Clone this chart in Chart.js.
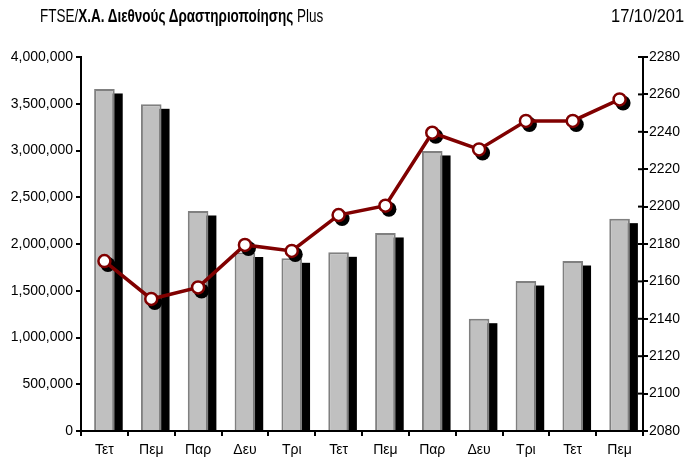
<!DOCTYPE html>
<html>
<head>
<meta charset="utf-8">
<script src="https://cdn.jsdelivr.net/npm/chart.js@4"></script>
<style>
  html, body { margin:0; padding:0; background:#fff; width:688px; height:463px; overflow:hidden; }
  #wrap { position:relative; width:688px; height:463px; }
  canvas { position:absolute; left:0; top:0; }
  .title { position:absolute; top:6px; font-family:"Liberation Sans Narrow","Arial Narrow","Liberation Sans",sans-serif; font-size:19px; color:#000; white-space:nowrap; line-height:1; transform-origin:0 0; }
  #t1 { left:40px; transform:scaleX(0.71); }
  #t2 { left:611px; transform:scaleX(0.865); }
</style>
</head>
<body>
<div id="wrap">
  <canvas id="c" width="688" height="463"></canvas>
  <div class="title" id="t1">FTSE/<b>Χ.Α. Διεθνούς Δραστηριοποίησης</b> Plus</div>
  <div class="title" id="t2">17/10/201</div>
</div>
<script>
const categories = ["Τετ","Πεμ","Παρ","Δευ","Τρι","Τετ","Πεμ","Παρ","Δευ","Τρι","Τετ","Πεμ"];
const volumeValues = [3658000, 3494000, 2353000, 1909000, 1847000, 1911000, 2118000, 2995000, 1201000, 1604000, 1818000, 2271000];
const indexValues = [2170.9, 2150.6, 2156.8, 2179.5, 2176.3, 2195.5, 2200.5, 2239.5, 2230.6, 2245.8, 2245.8, 2257.3];
const leftTicks = { min: 0, max: 4000000, step: 500000 };
const rightTicks = { min: 2080, max: 2280, step: 20 };

const shadowPlugin = {
  id: 'shadows',
  beforeDatasetDraw(chart, args) {
    const ctx = chart.ctx;
    const area = chart.chartArea;
    const meta = args.meta;
    ctx.save();
    ctx.beginPath();
    ctx.rect(area.left, area.top - 20, area.right - area.left + 20, area.bottom - area.top + 20);
    ctx.clip();
    ctx.fillStyle = '#000';
    if (meta.type === 'bar') {
      meta.data.forEach(el => {
        const p = el.getProps(['x','y','base','width'], true);
        const x0 = p.x - p.width / 2 + 8;
        const y0 = p.y + 4.5;
        ctx.fillRect(x0, y0, p.width, area.bottom - y0);
      });
    } else if (meta.type === 'line') {
      meta.data.forEach(el => {
        const p = el.getProps(['x','y'], true);
        ctx.beginPath();
        ctx.arc(p.x + 3.5, p.y + 3.5, 7.5, 0, Math.PI * 2);
        ctx.fill();
      });
    }
    ctx.restore();
  },
  afterDraw(chart) {
    const s = chart.scales.y2;
    const ctx = chart.ctx;
    ctx.save();
    ctx.strokeStyle = '#000';
    ctx.lineWidth = 2;
    s.ticks.forEach((t, i) => {
      const y = s.getPixelForTick(i);
      ctx.beginPath();
      ctx.moveTo(s.left - 5, y);
      ctx.lineTo(s.left, y);
      ctx.stroke();
    });
    ctx.restore();
  }
};

const fontTicks = { family: '"Liberation Sans", Arial, sans-serif', size: 14 };

new Chart(document.getElementById('c'), {
  data: {
    labels: categories,
    datasets: [
      {
        type: 'line',
        data: indexValues,
        yAxisID: 'y2',
        borderColor: '#800000',
        borderWidth: 3.5,
        pointRadius: 6,
        pointBorderWidth: 2.5,
        pointBackgroundColor: '#ffffff',
        pointBorderColor: '#800000',
        tension: 0,
        order: 0
      },
      {
        type: 'bar',
        data: volumeValues,
        yAxisID: 'y',
        backgroundColor: '#c0c0c0',
        borderColor: '#808080',
        borderWidth: 2,
        barPercentage: 0.44,
        categoryPercentage: 1,
        order: 1
      }
    ]
  },
  options: {
    responsive: false,
    animation: false,
    events: [],
    layout: { padding: { top: 57, left: 0, right: 0, bottom: 0 } },
    plugins: { legend: { display: false }, tooltip: { enabled: false }, title: { display: false } },
    scales: {
      x: {
        offset: true,
        grid: { display: true, drawOnChartArea: false, drawTicks: true, tickLength: 5, color: '#000', lineWidth: 2, offset: true },
        border: { display: true, color: '#000', width: 2 },
        ticks: { color: '#000', font: fontTicks, padding: 6, maxRotation: 0 },
        afterFit(s) { s.height = 32; }
      },
      y: {
        position: 'left',
        min: leftTicks.min, max: leftTicks.max,
        grid: { display: true, drawOnChartArea: false, drawTicks: true, tickLength: 5, color: '#000', lineWidth: 2 },
        border: { display: true, color: '#000', width: 2 },
        ticks: { stepSize: leftTicks.step, color: '#000', font: fontTicks, padding: 3,
                 callback: v => Number(v).toLocaleString('en-US') },
        afterFit(s) { s.width = 81; }
      },
      y2: {
        position: 'right',
        min: rightTicks.min, max: rightTicks.max,
        grid: { display: true, drawOnChartArea: false, drawTicks: true, tickLength: 5, color: '#000', lineWidth: 2 },
        border: { display: true, color: '#000', width: 2 },
        ticks: { stepSize: rightTicks.step, color: '#000', font: fontTicks, padding: 1,
                 callback: v => String(v) },
        afterFit(s) { s.width = 45; }
      }
    }
  },
  plugins: [shadowPlugin]
});
</script>
</body>
</html>
